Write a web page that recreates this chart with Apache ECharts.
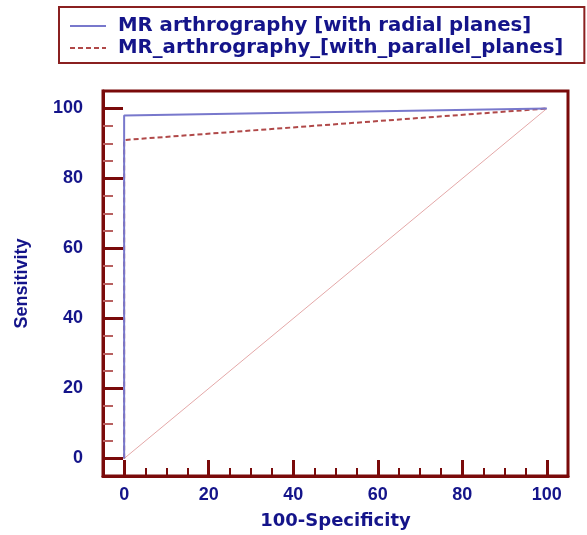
<!DOCTYPE html>
<html><head><meta charset="utf-8">
<script src="https://cdn.jsdelivr.net/npm/echarts@6/dist/echarts.min.js"></script>
<style>html,body{margin:0;padding:0;background:#fff}#c{width:587px;height:535px}</style>
</head><body><div id="c"></div>
<script>
const seriesNames = ['MR arthrography [with radial planes]', 'MR_arthrography_[with_parallel_planes]'];
const radialX = [0, 0, 100];
const radialY = [0, 98, 100];
const parallelX = [0, 0, 100];
const parallelY = [0, 91, 100];
const diagonalX = [0, 100];
const diagonalY = [0, 100];
const majorTicks = [0, 20, 40, 60, 80, 100];
const minorTicks = [5, 10, 15, 25, 30, 35, 45, 50, 55, 65, 70, 75, 85, 90, 95];
const xName = '100-Specificity';
const yName = 'Sensitivity';

const navy = '#14148a';
const frame = '#7a0a0a';
const font = 'Liberation Sans, Arial, sans-serif';
const wideFont = 'DejaVu Sans, sans-serif';

function pairs(xs, ys) { return xs.map((x, i) => [x, ys[i]]); }

const chart = echarts.init(document.getElementById('c'));
const baseAxis = { type: 'value', min: -5, max: 105, splitLine: { show: false } };
chart.setOption({
  animation: false,
  grid: { left: 103, right: 19, top: 91, bottom: 58, show: true, borderColor: frame, borderWidth: 3 },
  legend: {
    data: seriesNames, orient: 'vertical', left: 59, top: 7,
    padding: [9, 21, 5, 10], borderColor: '#8a2020', borderWidth: 2,
    itemWidth: 36, itemHeight: 16, itemGap: 2,
    itemStyle: { color: 'transparent', borderColor: 'transparent', borderWidth: 0 },
    textStyle: { color: navy, fontWeight: 'bold', fontSize: 19.7, fontFamily: wideFont, padding: [0, 0, 0, 7] }
  },
  xAxis: [
    Object.assign({}, baseAxis, {
      name: xName, nameLocation: 'middle', nameGap: 36,
      nameTextStyle: { color: navy, fontWeight: 'bold', fontSize: 18, fontFamily: wideFont },
      axisLine: { show: true, onZero: false, lineStyle: { color: frame, width: 3 } },
      axisTick: { show: true, inside: true, length: 16, lineStyle: { color: frame, width: 3 }, customValues: majorTicks },
      axisLabel: { color: navy, fontWeight: 'bold', fontSize: 18, fontFamily: font, margin: 10, customValues: majorTicks }
    }),
    Object.assign({}, baseAxis, {
      position: 'bottom',
      axisLine: { show: false, onZero: false },
      axisTick: { show: true, inside: true, length: 8, lineStyle: { color: frame, width: 2 }, customValues: minorTicks },
      axisLabel: { show: false }
    })
  ],
  yAxis: [
    Object.assign({}, baseAxis, {
      name: yName, nameLocation: 'middle', nameGap: 72,
      nameTextStyle: { color: navy, fontWeight: 'bold', fontSize: 18, fontFamily: font },
      axisLine: { show: true, onZero: false, lineStyle: { color: frame, width: 3 } },
      axisTick: { show: true, inside: true, length: 20, lineStyle: { color: frame, width: 3 }, customValues: majorTicks },
      axisLabel: { color: navy, fontWeight: 'bold', fontSize: 18, fontFamily: font, margin: 20, customValues: majorTicks }
    }),
    Object.assign({}, baseAxis, {
      position: 'left',
      axisLine: { show: false, onZero: false },
      axisTick: { show: true, inside: true, length: 10, lineStyle: { color: '#b86060', width: 2 }, customValues: minorTicks },
      axisLabel: { show: false }
    })
  ],
  series: [
    { name: 'diag', type: 'line', data: pairs(diagonalX, diagonalY), symbol: 'none', silent: true,
      lineStyle: { color: '#e4a8a8', width: 1 } },
    { name: seriesNames[1], type: 'line', data: pairs(parallelX, parallelY), symbol: 'none',
      lineStyle: { color: '#b04848', width: 2, type: [5, 3] }, itemStyle: { color: '#b04848' } },
    { name: seriesNames[0], type: 'line', data: pairs(radialX, radialY), symbol: 'none',
      lineStyle: { color: '#7878cc', width: 2 }, itemStyle: { color: '#7878cc' } }
  ]
});
</script></body></html>
